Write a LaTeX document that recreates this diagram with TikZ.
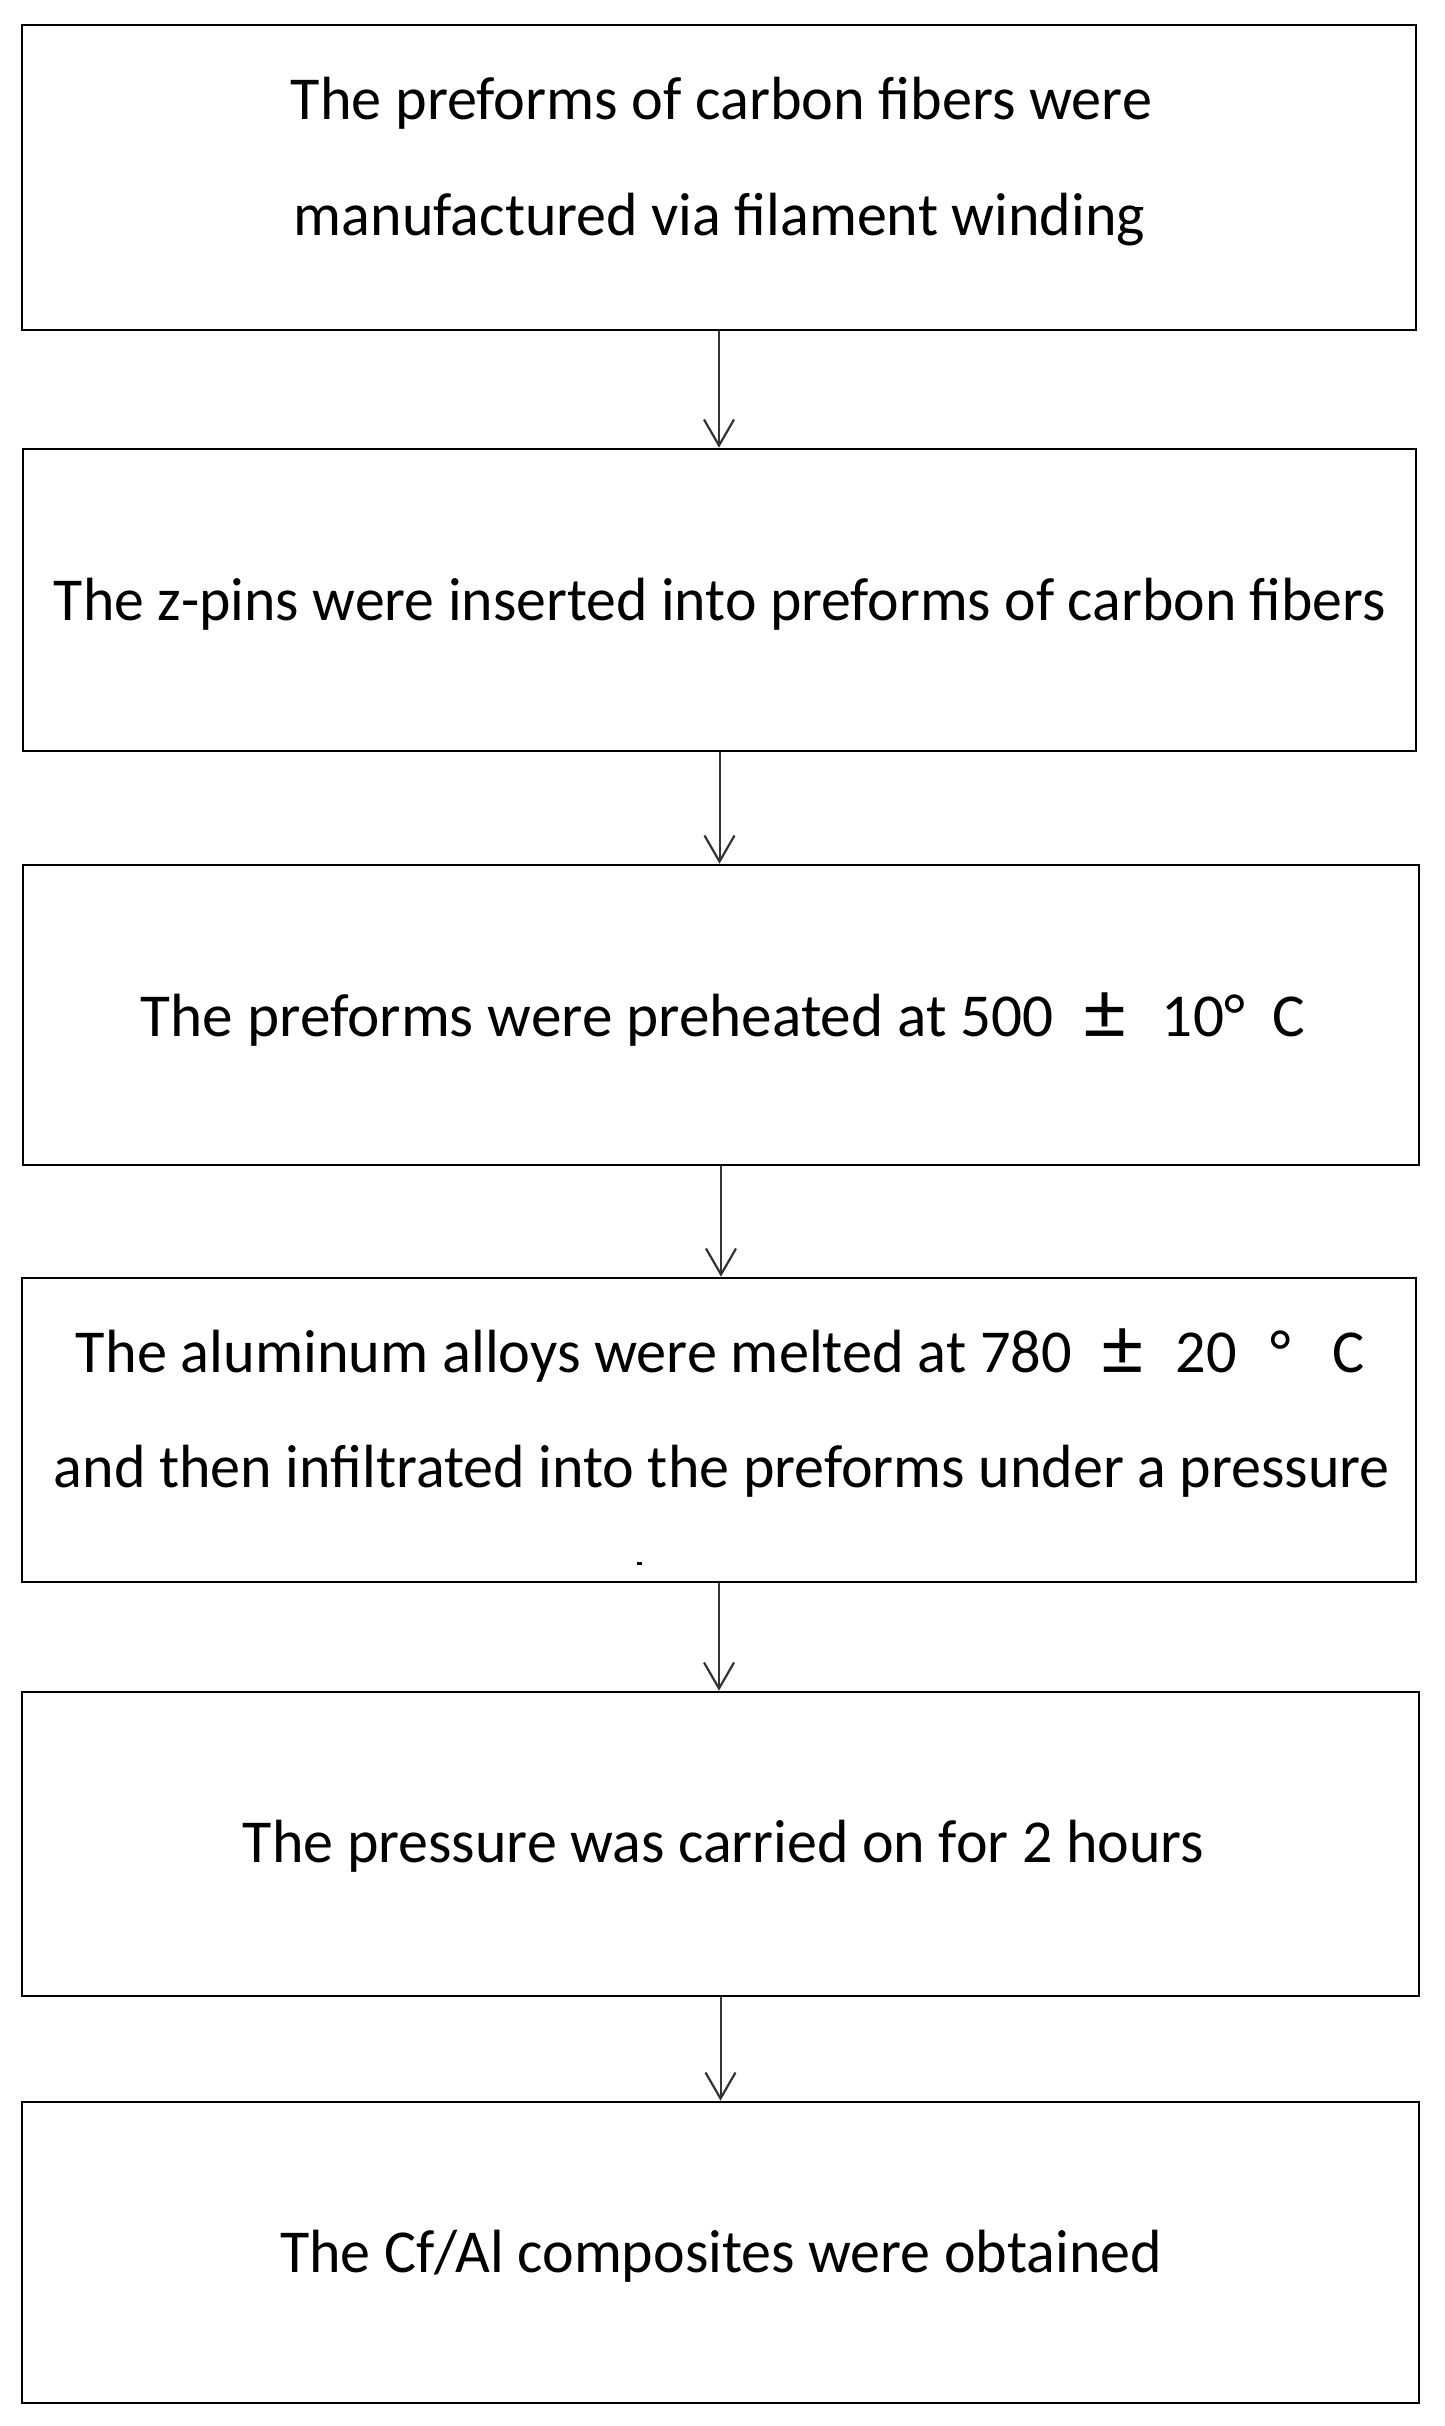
\documentclass[tikz,border=0pt]{standalone}
\usepackage{fontspec}
\setmainfont{Carlito}
\usepackage{graphicx}
\usetikzlibrary{arrows.meta}
\newcommand\fitw[2]{\resizebox{#1pt}{\height}{#2}}
\newcommand\bigpm{\raisebox{-0.06em}{\scalebox{1.35}{±}}}
\begin{document}
\begin{tikzpicture}[x=1pt,y=-1pt,
  box/.style={draw=black, line width=2.6pt, inner sep=0pt, fill=none},
  txt/.style={anchor=base, inner sep=0pt, text=black, font=\fontsize{61}{73}\selectfont},
  arr/.style={draw=black!80, line width=2pt, -{Straight Barb[length=26pt,width=30pt,line width=2.2pt]}},
  dotmark/.style={fill=black, draw=none, inner sep=0pt, minimum width=5pt, minimum height=3pt}]
\useasboundingbox (0,0) rectangle (1444,2426);
\fill[white] (0,0) rectangle (1444,2426);

% boxes
\node[box, minimum width=1394pt, minimum height=305pt] (b1) at (719,177.5) {};
\node[box, minimum width=1393pt, minimum height=302pt] (b2) at (719.5,600) {};
\node[box, minimum width=1396pt, minimum height=300pt] (b3) at (721,1015) {};
\node[box, minimum width=1394pt, minimum height=304pt] (b4) at (719,1430) {};
\node[box, minimum width=1397pt, minimum height=304pt] (b5) at (720.5,1844) {};
\node[box, minimum width=1397pt, minimum height=301pt] (b6) at (720.5,2252.5) {};

% texts
\node[txt] (t1a) at (721.5,119) {\fitw{861}{The preforms of carbon fibers were}};
\node[txt] (t1b) at (719.5,235) {\fitw{851}{manufactured via filament winding}};
\node[txt] (t2) at (720,620) {\fitw{1332}{The z-pins were inserted into preforms of carbon fibers}};
\node[txt] (t3) at (723,1036) {\fitw{1164}{The preforms were preheated at 500\hspace{0.5em}\bigpm\hspace{0.6em}10°\hspace{0.45em}C}};
\node[txt] (t4a) at (720.5,1372) {\fitw{1289}{The aluminum alloys were melted at 780\hspace{0.5em}\bigpm\hspace{0.55em}20\hspace{0.55em}°\hspace{0.7em}C}};
\node[txt] (t4b) at (722,1487) {\fitw{1336}{and then infiltrated into the preforms under a pressure}};
\node[txt] (t5) at (723.5,1862) {\fitw{961}{The pressure was carried on for 2 hours}};
\node[txt] (t6) at (721,2272) {\fitw{882}{The Cf/Al composites were obtained}};
\node[dotmark] (m4) at (639,1563) {};

% arrows
\draw[arr] (b1.south) -- (b1.south |- b2.north);
\draw[arr] (b2.south) -- (b2.south |- b3.north);
\draw[arr] (b3.south) -- (b3.south |- b4.north);
\draw[arr] (b4.south) -- (b4.south |- b5.north);
\draw[arr] (b5.south) -- (b5.south |- b6.north);
\end{tikzpicture}
\end{document}
